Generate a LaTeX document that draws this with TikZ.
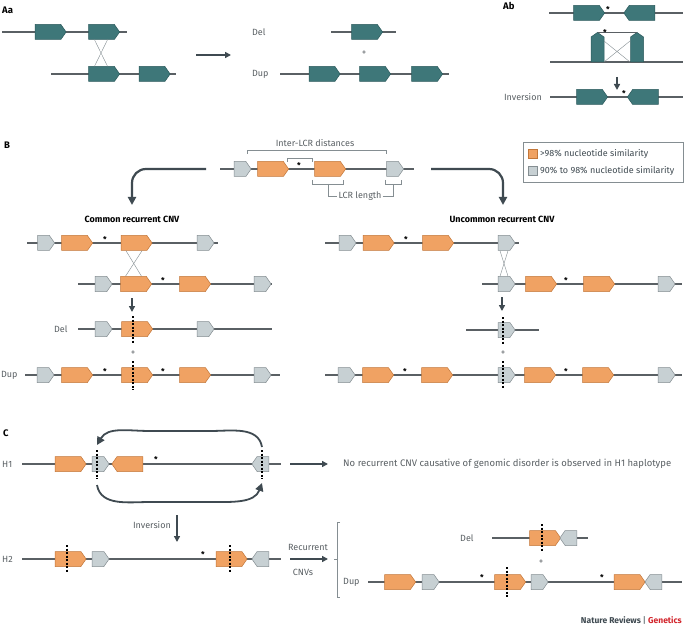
\documentclass[tikz,border=0pt]{standalone}
\usepackage{fontspec}
\setmainfont{Fira Sans}
\usetikzlibrary{shapes.symbols,arrows.meta,calc}
\definecolor{teal}{HTML}{3E7779}
\definecolor{tealdk}{HTML}{2C5A5C}
\definecolor{org}{HTML}{F0A263}
\definecolor{orgdk}{HTML}{C2773A}
\definecolor{gry}{HTML}{C7D0D3}
\definecolor{grydk}{HTML}{858E92}
\definecolor{ln}{HTML}{5A6064}
\definecolor{arr}{HTML}{3F4A51}
\definecolor{nred}{HTML}{D2232A}
\begin{document}
\begin{tikzpicture}[x=1pt,y=-1pt,
  g/.style={signal,draw,inner sep=0pt,signal pointer angle=110,line width=0.5pt},
  tr/.style={g,fill=teal,draw=tealdk,signal to=east,minimum width=31pt,minimum height=15pt},
  tl/.style={g,fill=teal,draw=tealdk,signal to=west,minimum width=31pt,minimum height=15pt},
  tu/.style={g,fill=teal,draw=tealdk,signal to=north,minimum width=13pt,minimum height=25pt},
  or/.style={g,fill=org,draw=orgdk,signal to=east,minimum width=31pt,minimum height=15pt},
  ol/.style={g,fill=org,draw=orgdk,signal to=west,minimum width=31pt,minimum height=15pt},
  gr/.style={g,fill=gry,draw=grydk,signal to=east,minimum width=17pt,minimum height=15pt},
  gl/.style={g,fill=gry,draw=grydk,signal to=west,minimum width=17pt,minimum height=15pt},
  bb/.style={draw=ln,line width=1.2pt},
  cx/.style={draw=grydk,line width=0.4pt},
  ds/.style={draw=black,line width=1.1pt,dash pattern=on 2pt off 1.5pt},
  ba/.style={draw=arr,line width=2.2pt,-{Triangle[length=8pt,width=8pt]}},
  sa/.style={draw=arr,line width=1.6pt,-{Triangle[length=6pt,width=6pt]}},
  t/.style={font=\fontsize{9}{10}\selectfont,text=ln,inner sep=1pt},
  st/.style={font=\fontsize{8}{9}\selectfont\bfseries,inner sep=0pt},
  h/.style={font=\fontsize{9.5}{10}\selectfont\bfseries,inner sep=0pt},
  br/.style={draw=grydk,line width=0.5pt}]
\useasboundingbox (0,0) rectangle (685,628);
\fill[white] (0,0) rectangle (685,628);
% ---------------- Aa
\node[h,anchor=west] (Aa) at (2,10) {Aa};
\draw[bb] (2,32)--(127,32);
\node[tr] (a1) at (48,32) {}; \node[tr] (a2) at (101.5,32) {};
\draw[bb] (51,74)--(176,74);
\node[tr] (a3) at (101.5,74) {}; \node[tr] (a4) at (152,74) {};
\draw[cx] ($(a2.south)+(-7,0)$)--($(a3.north)+(6,0)$);
\draw[cx] ($(a2.south)+(6,0)$)--($(a3.north)+(-7,0)$);
\coordinate (aa1) at (196,55); \coordinate (aa2) at (231,55);
\draw[sa] (aa1)--(aa2);
\node[t,anchor=west] (del1) at (251,32) {Del};
\draw[bb] (331,32)--(396,32);
\node[tr] (d1) at (364.5,32) {};
\node[t] (pl1) at (364,53) {+};
\node[t,anchor=west] (dup1) at (251,74) {Dup};
\draw[bb] (280,74)--(449,74);
\node[tr] (u1) at (322,74) {}; \node[tr] (u2) at (372.5,74) {}; \node[tr] (u3) at (424.5,74) {};
% ---------------- Ab
\node[h,anchor=west] (Ab) at (503,6) {Ab};
\draw[bb] (549,13)--(683,13);
\node[tr] (b1) at (586.5,13) {}; \node[tl] (b2) at (642,13) {};
\node[st] (s1) at (608,10) {*};
\draw[bb] (550,62)--(683,62);
\node[tu] (v1) at (597.5,49.5) {}; \node[tu] (v2) at (637,49.5) {};
\draw[bb] (v1.north)--(v2.north);
\node[st] (s2) at (605,33) {*};
\draw[cx] (604,41)--(630,62); \draw[cx] (630,41)--(604,62);
\coordinate (ab1) at (617,77); \coordinate (ab2) at (617,90);
\draw[sa] (ab1)--(ab2);
\node[t,anchor=east] (inv1) at (543,97) {Inversion};
\draw[bb] (550,97)--(683,97);
\node[tr] (b3) at (589.5,97) {}; \node[tl] (b4) at (645.5,97) {};
\node[st] (s3) at (624,94) {*};
% ---------------- B
\node[h,anchor=west] (B) at (4,145) {B};
\node[t] (ild) at (315,143) {Inter-LCR distances};
\draw[br] (247,154)--(247,150)--(386,150)--(386,154);
\draw[br] (287,162)--(287,158)--(312,158)--(312,162);
\draw[bb] (220,169)--(414,169);
\node[gr] (p1) at (240,169) {}; \node[or] (p2) at (270.5,169) {};
\node[or] (p3) at (327.5,169) {}; \node[gr] (p4) at (392.5,169) {};
\node[st] (s4) at (299,166) {*};
\draw[br] (312,180)--(312,184)--(343,184)--(343,180);
\draw[br] (385,180)--(385,184)--(401,184)--(401,180);
\node[t] (lcr) at (360,196) {LCR length};
\draw[br] (328,184)--(328,196)--(lcr.west);
\draw[br] (lcr.east)--(393,196)--(393,184);
\draw[draw=grydk,line width=0.5pt] (523,142) rectangle (683,182);
\node[g,fill=org,draw=orgdk,minimum width=9pt,minimum height=9pt,signal to=nowhere] (k1) at (533,154) {};
\node[t,anchor=west,text=arr] (k1t) at (539,154) {>98\% nucleotide similarity};
\node[g,fill=gry,draw=grydk,minimum width=9pt,minimum height=9pt,signal to=nowhere] (k2) at (533,171) {};
\node[t,anchor=west,text=arr] (k2t) at (539,171) {90\% to 98\% nucleotide similarity};
\draw[ba] (206,169)--(146,169) to[out=180,in=90] (132,183)--(132,205);
\draw[ba] (431,169)--(489,169) to[out=0,in=90] (503,183)--(503,205);
\node[st,font=\fontsize{9}{10}\selectfont\bfseries] (ccnv) at (132,219) {Common recurrent CNV};
\node[st,font=\fontsize{9}{10}\selectfont\bfseries] (ucnv) at (502,219) {Uncommon recurrent CNV};
% left column
\draw[bb] (27,243)--(218,243);
\node[gr] (l1) at (43.5,243) {}; \node[or] (l2) at (74.5,243) {}; \node[or] (l3) at (134,243) {}; \node[gr] (l4) at (203,243) {};
\node[st] (s5) at (105,240) {*};
\draw[bb] (78,284)--(272,284);
\node[gr] (l5) at (101,284) {}; \node[or] (l6) at (133.5,284) {}; \node[or] (l7) at (192.5,284) {}; \node[gr] (l8) at (260,284) {};
\node[st] (s6) at (163,281) {*};
\draw[cx] ($(l3.south)+(-8,0)$)--($(l6.north)+(8,0)$);
\draw[cx] ($(l3.south)+(8,0)$)--($(l6.north)+(-8,0)$);
\coordinate (la1) at (132,298); \coordinate (la2) at (132,312);
\draw[sa] (la1)--(la2);
\node[t,anchor=west] (del2) at (53,329) {Del};
\draw[bb] (78,329)--(272,329);
\node[gr] (l9) at (101,329) {}; \node[or] (l10) at (134.5,329) {}; \node[gr] (l11) at (203,329) {};
\draw[ds] (133,316)--(133,344);
\node[t] (pl2) at (133,353) {+};
\node[t,anchor=west] (dup2) at (0,375) {Dup};
\draw[bb] (25,375)--(280,375);
\node[gr] (l12) at (43,375) {}; \node[or] (l13) at (74.5,375) {}; \node[or] (l14) at (134.5,375) {}; \node[or] (l15) at (192.5,375) {}; \node[gr] (l16) at (260,375) {};
\node[st] (s7) at (105,372) {*}; \node[st] (s8) at (163,372) {*};
\draw[ds] (133,361)--(133,390);
% right column
\draw[bb] (325,243)--(519,243);
\node[gr] (r1) at (345,243) {}; \node[or] (r2) at (376,243) {}; \node[or] (r3) at (435.5,243) {}; \node[gr] (r4) at (504,243) {};
\node[st] (s9) at (406,240) {*};
\draw[bb] (482,284)--(682,284);
\node[gr] (r5) at (504,284) {}; \node[or] (r6) at (538.5,284) {}; \node[or] (r7) at (596.5,284) {}; \node[gr] (r8) at (664,284) {};
\node[st] (s10) at (566,281) {*};
\draw[cx] ($(r4.south)+(-4,0)$)--($(r5.north)+(4,0)$);
\draw[cx] ($(r4.south)+(4,0)$)--($(r5.north)+(-4,0)$);
\coordinate (ra1) at (502,297); \coordinate (ra2) at (502,311);
\draw[sa] (ra1)--(ra2);
\draw[bb] (466,330)--(539,330);
\node[gr] (r9) at (504,330) {};
\draw[ds] (503,317)--(503,345);
\node[t] (pl3) at (503,353) {+};
\draw[bb] (325,375)--(682,375);
\node[gr] (r10) at (344,375) {}; \node[or] (r11) at (375.5,375) {}; \node[or] (r12) at (434.5,375) {};
\node[gr] (r13) at (504,375) {}; \node[or] (r14) at (537.5,375) {}; \node[or] (r15) at (595.5,375) {}; \node[gr] (r16) at (664,375) {};
\node[st] (s11) at (405,372) {*}; \node[st] (s12) at (566,372) {*};
\draw[ds] (503,361)--(503,389);
% ---------------- C
\node[h,anchor=west] (C) at (3,433) {C};
\node[t,anchor=west] (h1) at (1,464) {H1};
\draw[bb] (22,464)--(281,464);
\node[or] (c1) at (68,464) {}; \node[gr] (c2) at (98,464) {}; \node[ol] (c3) at (130,464) {}; \node[gl] (c4) at (263,464) {};
\node[st] (s13) at (156,460) {*};
\draw[ds] (97,450)--(97,479); \draw[ds] (262,450)--(262,479);
\draw[ba,line width=1.8pt] (262,447) to[out=100,in=0] (210,431) -- (150,431) to[out=180,in=60] (97,445);
\draw[ba,line width=1.8pt] (97,485) to[out=-80,in=180] (150,502) -- (210,502) to[out=0,in=-110] (262,483);
\coordinate (ca1) at (290,464); \coordinate (ca2) at (328,464);
\draw[sa] (ca1)--(ca2);
\node[t,anchor=west,font=\fontsize{9.5}{10}\selectfont] (nor) at (342,464) {No recurrent CNV causative of genomic disorder is observed in H1 haplotype};
\coordinate (cb1) at (177,515); \coordinate (cb2) at (177,542);
\draw[sa] (cb1)--(cb2);
\node[t,anchor=east] (inv2) at (172,525) {Inversion};
\node[t,anchor=west] (h2) at (1,559) {H2};
\draw[bb] (22,559)--(281,559);
\node[or] (c5) at (68,559) {}; \node[gr] (c6) at (98,559) {}; \node[or] (c7) at (229,559) {}; \node[gl] (c8) at (263,559) {};
\node[st] (s14) at (203,555) {*};
\draw[ds] (67,545)--(67,573); \draw[ds] (230,545)--(230,573);
\coordinate (cc1) at (290,559); \coordinate (cc2) at (328,559);
\draw[sa] (cc1)--(cc2);
\node[t] (rec) at (308,547) {Recurrent};
\node[t] (cnvs) at (303,572) {CNVs};
\draw[br] (340,522)--(337,522)--(337,597)--(340,597);
\draw[br] (337,559)--(334,559);
\node[t,anchor=west] (del3) at (459,538) {Del};
\draw[bb] (492,538)--(588,538);
\node[or] (e1) at (542.5,538) {}; \node[gl] (e2) at (571,538) {};
\draw[ds] (542,524)--(542,552);
\node[t] (pl4) at (541,562) {+};
\node[t,anchor=west] (dup3) at (342,582) {Dup};
\draw[bb] (368,582)--(682,582);
\node[or] (f1) at (397.5,582) {}; \node[gr] (f2) at (428,582) {};
\node[or] (f3) at (507.5,582) {}; \node[gr] (f4) at (537,582) {};
\node[or] (f5) at (627,582) {}; \node[gl] (f6) at (656,582) {};
\node[st] (s15) at (482,578) {*}; \node[st] (s16) at (602,578) {*};
\draw[ds] (507,567)--(507,597);
\node[anchor=east,inner sep=0pt,font=\fontsize{8.5}{9}\selectfont\bfseries] (nr) at (682,620) {\textcolor{arr}{Nature Reviews} \textcolor{grydk}{|} \textcolor{nred}{Genetics}};
\end{tikzpicture}
\end{document}
